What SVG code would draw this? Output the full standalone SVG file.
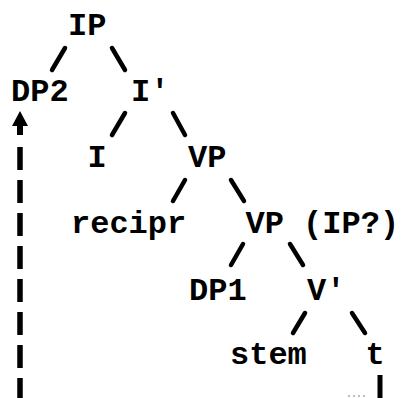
<svg xmlns="http://www.w3.org/2000/svg" width="406" height="398" viewBox="0 0 406 398">
<style>
  .t { font-family: "Liberation Mono", "Courier New", monospace; font-weight: bold; font-size: 32px; fill: #000; }
  .e { stroke: #000; stroke-width: 4.5; stroke-linecap: round; fill: none; }
  .d { stroke: #000; stroke-width: 5.5; fill: none; stroke-dasharray: 23 10; }
</style>
<rect width="406" height="398" fill="#fff"/>
<g id="connectors">
  <line class="e" x1="65" y1="48" x2="52" y2="70"/>
  <line class="e" x1="112" y1="48" x2="125" y2="70"/>
  <line class="e" x1="125" y1="113" x2="112" y2="135"/>
  <line class="e" x1="173" y1="113" x2="185" y2="135"/>
  <line class="e" x1="185" y1="180" x2="173" y2="201"/>
  <line class="e" x1="231" y1="180" x2="244" y2="201"/>
  <line class="e" x1="243" y1="244" x2="231" y2="265"/>
  <line class="e" x1="290" y1="244" x2="303" y2="265"/>
  <line class="e" x1="305" y1="313" x2="293" y2="333"/>
  <line class="e" x1="352" y1="313" x2="365" y2="333"/>
  <line class="d" x1="20" y1="147" x2="20" y2="398"/>
  <polygon points="20,111 12,126 17,126 17,135 23,135 23,126 28,126" fill="#000"/>
  <line x1="380" y1="375" x2="380" y2="398" stroke="#000" stroke-width="5"/>
  <line x1="348" y1="396" x2="366" y2="396" stroke="#aaa" stroke-width="1.5" stroke-dasharray="2 3"/>
</g>
<g id="n-IP"><text class="t" x="68" y="35">IP</text></g>
<g id="n-DP2"><text class="t" x="11" y="101">DP2</text></g>
<g id="n-Ibar"><text class="t" x="131" y="101">I'</text></g>
<g id="n-I"><text class="t" x="87.5" y="167">I</text></g>
<g id="n-VP1"><text class="t" x="188" y="167">VP</text></g>
<g id="n-recipr"><text class="t" x="71" y="233">recipr</text></g>
<g id="n-VP2"><text class="t" x="245.5" y="233">VP (IP?)</text></g>
<g id="n-DP1"><text class="t" x="189" y="300">DP1</text></g>
<g id="n-Vbar"><text class="t" x="307" y="300">V'</text></g>
<g id="n-stem"><text class="t" x="230" y="364">stem</text></g>
<g id="n-t"><text class="t" x="365.5" y="364">t</text></g>
</svg>
